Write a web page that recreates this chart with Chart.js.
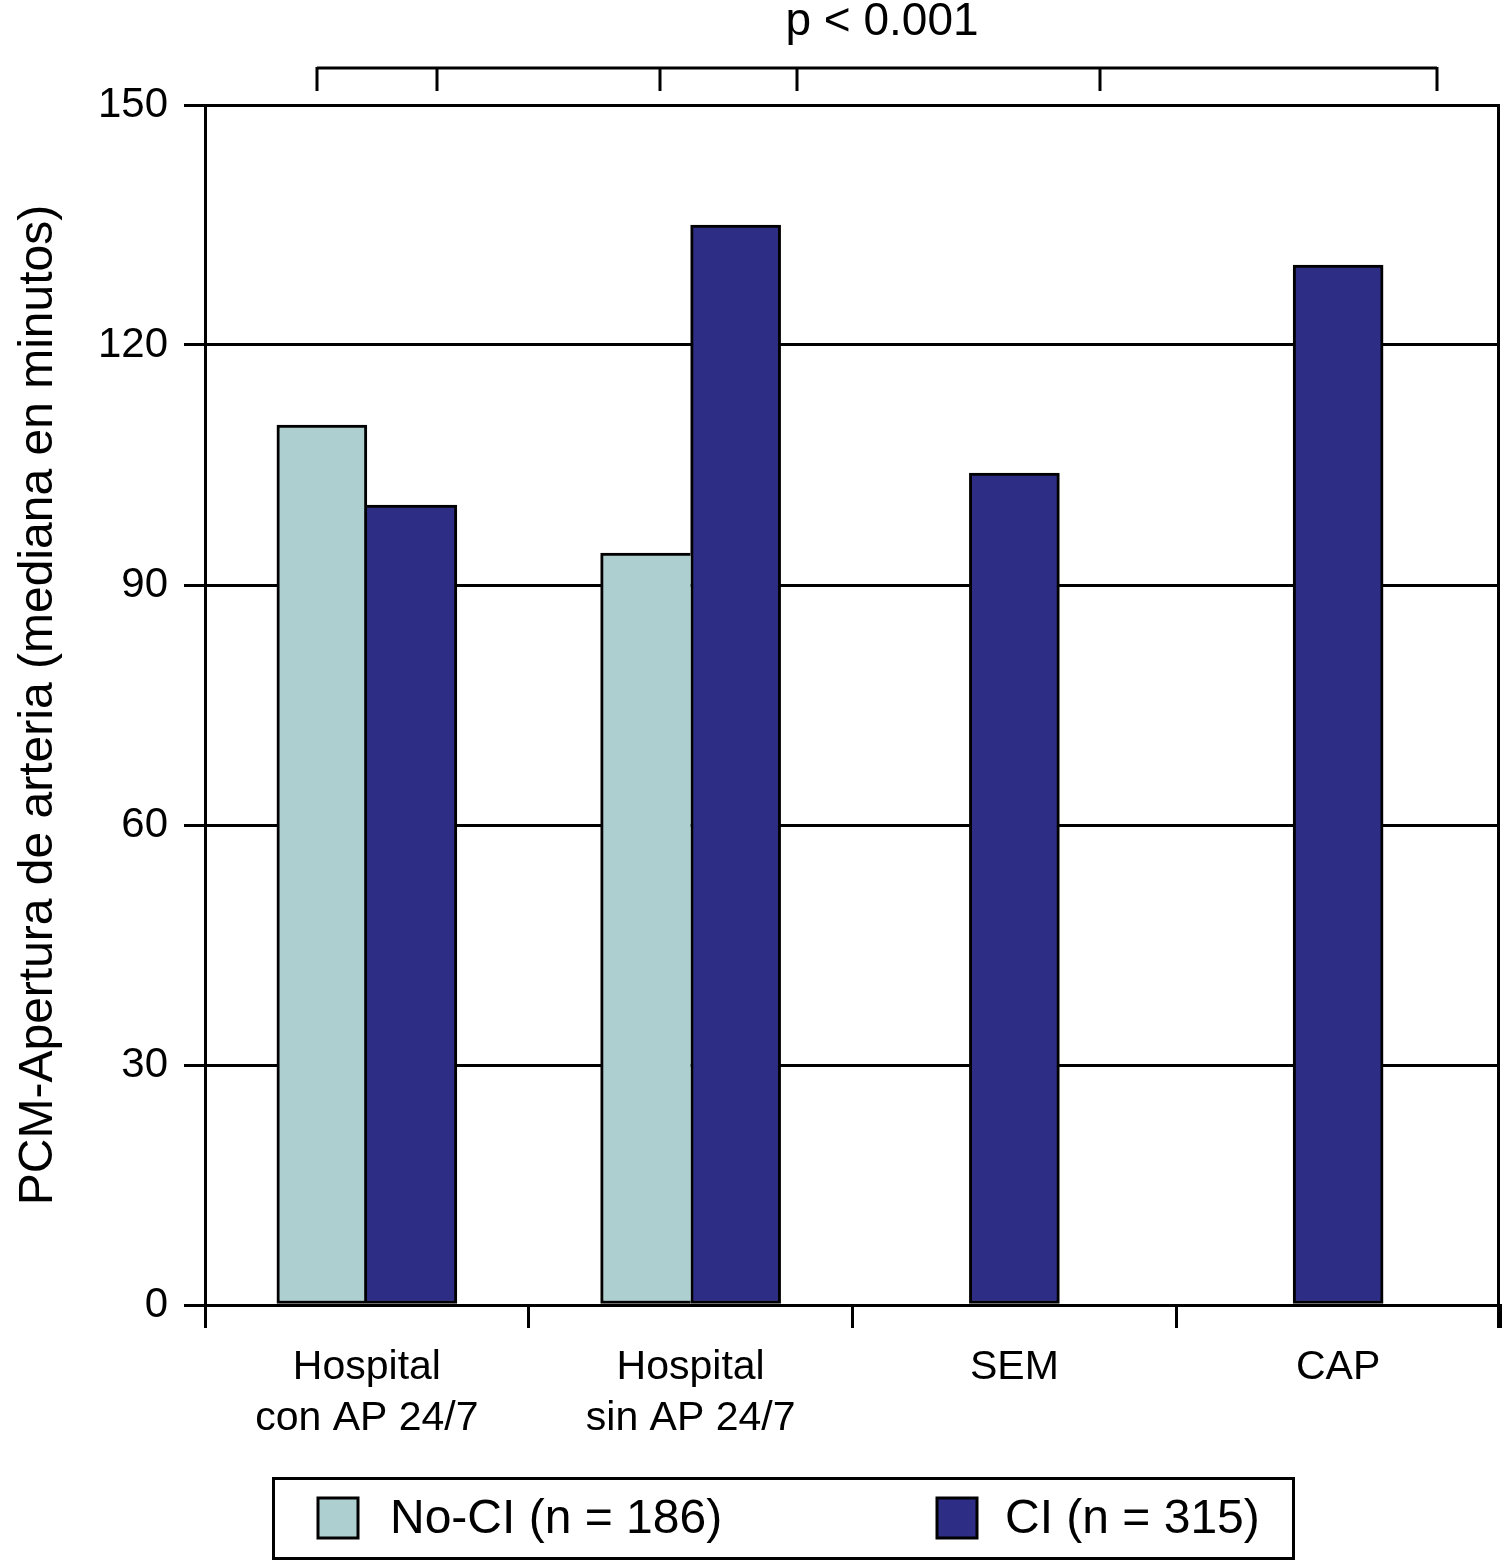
<!DOCTYPE html>
<html>
<head>
<meta charset="utf-8">
<script src="https://cdn.jsdelivr.net/npm/chart.js@4.4.1/dist/chart.umd.min.js"></script>
<style>
  html, body { margin: 0; padding: 0; background: #fff; }
  #wrap { width: 1504px; height: 1561px; }
</style>
</head>
<body>
<div id="wrap"><canvas id="myChart" width="1504" height="1561"></canvas></div>
<script>
// data
const categories = [["Hospital", "con AP 24/7"], ["Hospital", "sin AP 24/7"], "SEM", "CAP"];
const noCiValues = [110, 94, null, null];
const ciValues = [100, 135, 104, 130];
const seriesNames = ["No-CI (n = 186)", "CI (n = 315)"];
const seriesColors = ["#aecfd0", "#2e2d85"];
const yTicks = [0, 30, 60, 90, 120, 150];
const yTitle = "PCM-Apertura de arteria (mediana en minutos)";
const pText = "p < 0.001";

const FONT = "'Liberation Sans', Arial, sans-serif";

// bracket over the bars + boxed legend at the bottom
const extras = {
  id: 'extras',
  afterDraw(chart) {
    const ctx = chart.ctx;
    ctx.save();
    ctx.strokeStyle = '#000';
    ctx.lineWidth = 3;
    ctx.lineCap = 'butt';

    // p value bracket
    const bx = [317, 437, 660, 797, 1100, 1437];
    ctx.beginPath();
    ctx.moveTo(bx[0], 68);
    ctx.lineTo(bx[bx.length - 1], 68);
    bx.forEach(x => { ctx.moveTo(x, 67); ctx.lineTo(x, 91); });
    ctx.stroke();
    ctx.fillStyle = '#000';
    ctx.font = '46px ' + FONT;
    ctx.textAlign = 'center';
    ctx.textBaseline = 'alphabetic';
    ctx.fillText(pText, 882, 35);

    // right border of the plot
    const a = chart.chartArea;
    ctx.beginPath();
    ctx.moveTo(a.right - 1.5, a.top);
    ctx.lineTo(a.right - 1.5, a.bottom + 23);
    ctx.stroke();

    // legend
    ctx.strokeRect(273.5, 1478.5, 1020, 80);
    const sw = [318, 937];
    ctx.font = '48px ' + FONT;
    ctx.textAlign = 'left';
    ctx.textBaseline = 'middle';
    seriesNames.forEach((name, i) => {
      ctx.fillStyle = seriesColors[i];
      ctx.fillRect(sw[i], 1498, 40, 40);
      ctx.strokeRect(sw[i], 1498, 40, 40);
      ctx.fillStyle = '#000';
      ctx.fillText(name, sw[i] + (i === 0 ? 72 : 68), 1520);
    });
    ctx.restore();
  }
};

// the shared edge of a pair is drawn only once, by the taller bar
function noCiBorder(c) {
  const i = c.dataIndex;
  return { top: 3, left: 3, bottom: 3, right: noCiValues[i] > ciValues[i] ? 3 : 0 };
}
function ciBorder(c) {
  const i = c.dataIndex;
  const n = noCiValues[i];
  return { top: 3, right: 3, bottom: 3, left: (n == null || ciValues[i] >= n) ? 3 : 0 };
}

const ctx = document.getElementById('myChart').getContext('2d');
new Chart(ctx, {
  type: 'bar',
  data: {
    labels: categories,
    datasets: [{
      label: seriesNames[0],
      data: noCiValues,
      backgroundColor: seriesColors[0],
      borderColor: '#000',
      borderWidth: noCiBorder,
      borderSkipped: false,
      barThickness: 90,
      skipNull: true
    }, {
      label: seriesNames[1],
      data: ciValues,
      backgroundColor: seriesColors[1],
      borderColor: '#000',
      borderWidth: ciBorder,
      borderSkipped: false,
      barThickness: 90,
      skipNull: true
    }]
  },
  options: {
    responsive: false,
    animation: false,
    devicePixelRatio: 1,
    layout: { padding: { top: 105, right: 4, left: 0, bottom: 0 } },
    plugins: {
      legend: { display: false },
      tooltip: { enabled: false }
    },
    scales: {
      x: {
        offset: true,
        grid: {
          offset: true,
          drawOnChartArea: false,
          color: '#000',
          tickColor: '#000',
          lineWidth: 3,
          tickLength: 23
        },
        border: { display: true, color: '#000', width: 3 },
        ticks: {
          color: '#000',
          font: { family: FONT, size: 41, lineHeight: 1.24 },
          padding: 14,
          maxRotation: 0,
          autoSkip: false
        },
        afterFit(s) { s.height = 256; }
      },
      y: {
        min: 0,
        max: 150,
        afterBuildTicks(s) { s.ticks = yTicks.map(v => ({ value: v })); },
        grid: {
          color: '#000',
          lineWidth: 3,
          tickLength: 21,
          tickColor: '#000'
        },
        border: { display: true, color: '#000', width: 3 },
        ticks: {
          color: '#000',
          font: { family: FONT, size: 42 },
          padding: 16
        },
        title: {
          display: true,
          text: yTitle,
          color: '#000',
          font: { family: FONT, size: 48 },
          padding: { top: 10, bottom: 0 }
        },
        afterFit(s) { s.width = 205; }
      }
    }
  },
  plugins: [extras]
});
</script>
</body>
</html>
